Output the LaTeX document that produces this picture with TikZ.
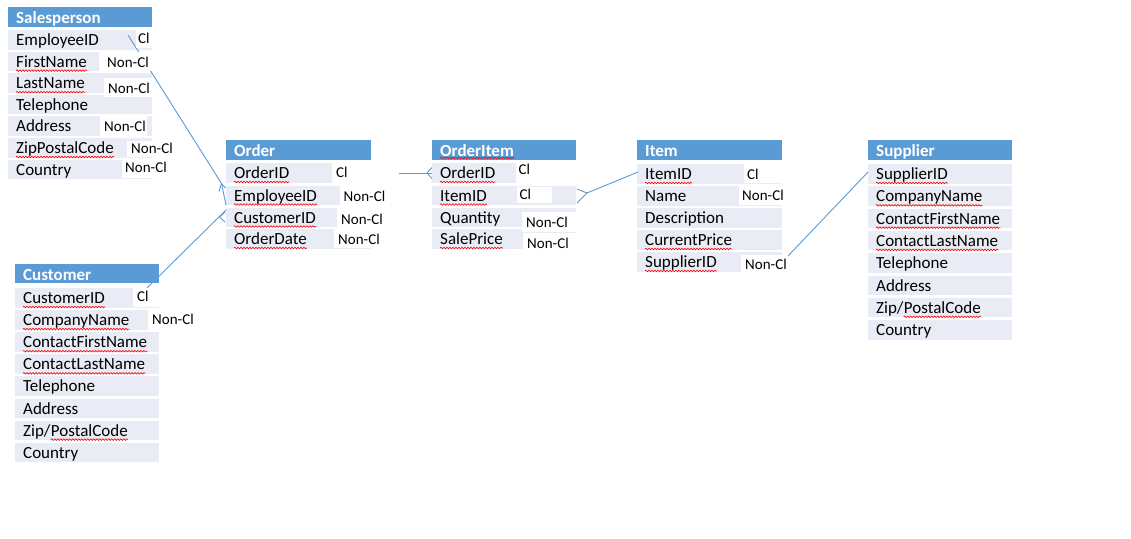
\documentclass[tikz,border=0pt]{standalone}
\usepackage{fontspec}
\setmainfont{Carlito}
\usetikzlibrary{decorations.pathmorphing}
\definecolor{hdrblue}{HTML}{5B9BD5}
\definecolor{rowbg}{HTML}{E9EBF5}
\definecolor{connblue}{HTML}{5B9BD5}
\definecolor{spellred}{HTML}{FF0000}
\tikzset{
 hdrtext/.style={anchor=base west, inner sep=0pt, text=white, font=\fontsize{17}{20}\selectfont\bfseries},
 fldtext/.style={anchor=base west, inner sep=0pt, text=black, font=\fontsize{17}{20}\selectfont},
 labtext/.style={anchor=base west, inner sep=0pt, text=black, font=\fontsize{15}{18}\selectfont},
 spell/.style={draw=spellred, line width=0.6pt, decorate, decoration={snake, amplitude=0.8pt, segment length=3pt}},
 link/.style={draw=connblue, line width=0.9pt},
}
\newcommand\Hdr[5]{%
 \fill[hdrblue] (#2,#3) rectangle ++(#4,19.5);
 \node[hdrtext] (#1) at ({#2+8},{#3+16.5}) {#5};}
\newcommand\Fld[5]{%
 \fill[rowbg] (#2,#3) rectangle ++(#4,19.5);
 \node[fldtext] (#1) at ({#2+8},{#3+15.5}) {#5};}
\newcommand\Spl[1]{\draw[spell] ([yshift=-3.5pt]#1.base west) -- ([yshift=-3.5pt]#1.base east);}
\newcommand\Lab[8]{%
 \fill[white] (#2,#3) rectangle (#4,#5);
 \node[labtext] (#1) at (#6,#7) {#8};}
\begin{document}
\begin{tikzpicture}[x=1pt,y=-1pt]
\fill[white] (0,0) rectangle (1131,538);
\useasboundingbox (0,0) rectangle (1131,538);
% Salesperson
\Hdr{sH}{8}{7}{144}{Salesperson}
\Fld{s1}{8}{30}{144}{EmployeeID}
\Fld{s2}{8}{51.6}{144}{FirstName}
\Fld{s3}{8}{73.2}{144}{LastName}
\Fld{s4}{8}{94.8}{144}{Telephone}
\Fld{s5}{8}{116.4}{144}{Address}
\Fld{s6}{8}{138}{144}{ZipPostalCode}
\Fld{s7}{8}{159.6}{144}{Country}
% Order
\Hdr{oH}{226}{140}{145}{Order}
\Fld{o1}{226}{163}{145}{OrderID}
\Fld{o2}{226}{185.5}{145}{EmployeeID}
\Fld{o3}{226}{207.5}{145}{CustomerID}
\Fld{o4}{226}{229}{145}{OrderDate}
% OrderItem
\Hdr{iH}{432}{140}{144}{OrderItem}
\Fld{i1}{432}{163}{144}{OrderID}
\Fld{i2}{432}{185.5}{144}{ItemID}
\Fld{i3}{432}{207.5}{144}{Quantity}
\Fld{i4}{432}{229}{144}{SalePrice}
% Item
\Hdr{tH}{637}{140}{145}{Item}
\Fld{t1}{637}{164}{145}{ItemID}
\Fld{t2}{637}{186}{145}{Name}
\Fld{t3}{637}{208}{145}{Description}
\Fld{t4}{637}{230}{145}{CurrentPrice}
\Fld{t5}{637}{252}{145}{SupplierID}
% Supplier
\Hdr{uH}{868}{140}{144}{Supplier}
\Fld{u1}{868}{164}{144}{SupplierID}
\Fld{u2}{868}{186.3}{144}{CompanyName}
\Fld{u3}{868}{208.6}{144}{ContactFirstName}
\Fld{u4}{868}{230.9}{144}{ContactLastName}
\Fld{u5}{868}{253.2}{144}{Telephone}
\Fld{u6}{868}{275.5}{144}{Address}
\Fld{u7}{868}{297.8}{144}{Zip/}
\node[fldtext] (u7b) at (u7.base east) {PostalCode};
\Fld{u8}{868}{320.1}{144}{Country}
% Customer
\Hdr{cH}{15}{263.5}{144}{Customer}
\Fld{c1}{15}{288}{144}{CustomerID}
\Fld{c2}{15}{310.1}{144}{CompanyName}
\Fld{c3}{15}{332.2}{144}{ContactFirstName}
\Fld{c4}{15}{354.3}{144}{ContactLastName}
\Fld{c5}{15}{376.4}{144}{Telephone}
\Fld{c6}{15}{398.5}{144}{Address}
\Fld{c7}{15}{420.6}{144}{Zip/}
\node[fldtext] (c7b) at (c7.base east) {PostalCode};
\Fld{c8}{15}{442.7}{144}{Country}
% spelling marks
\Spl{s2}\Spl{s3}\Spl{s6}
\Spl{o1}\Spl{o2}\Spl{o3}\Spl{o4}
\draw[spell] ([yshift=-1.5pt]iH.base west) -- ([yshift=-1.5pt]iH.base east);
\Spl{i1}\Spl{i2}\Spl{i4}
\Spl{t1}\Spl{t4}\Spl{t5}
\Spl{u1}\Spl{u2}\Spl{u3}\Spl{u4}\Spl{u7b}
\Spl{c1}\Spl{c2}\Spl{c3}\Spl{c4}\Spl{c7b}
% connectors
\coordinate (k1a) at (128,35);
\coordinate (k1b) at (221.5,183.5);
\coordinate (k1e) at (226,205);
\coordinate (k1l) at (219,191.5);
\coordinate (k1r) at (225.5,188);
\draw[link] (k1a) -- (k1b) -- (k1e);
\draw[link] (k1l) -- (k1b) -- (k1r);
\coordinate (k2a) at (147,288);
\coordinate (k2e) at (226,210);
\coordinate (k2p) at (219.5,217);
\coordinate (k2u) at (225,212);
\coordinate (k2d) at (225,222);
\draw[link] (k2a) -- (k2e);
\draw[link] (k2u) -- (k2p) -- (k2d);
\coordinate (k3a) at (399,173);
\coordinate (k3e) at (432,173);
\coordinate (k3p) at (427,173);
\coordinate (k3u) at (432,167.5);
\coordinate (k3d) at (432,178.5);
\draw[link] (k3a) -- (k3e);
\draw[link] (k3u) -- (k3p) -- (k3d);
\coordinate (k4a) at (638,172);
\coordinate (k4p) at (587,193);
\coordinate (k4u) at (577,189);
\coordinate (k4d) at (577,203);
\draw[link] (k4a) -- (k4p);
\draw[link] (k4u) -- (k4p) -- (k4d);
\coordinate (k5a) at (788,256);
\coordinate (k5e) at (868,172);
\draw[link] (k5a) -- (k5e);
% labels
\Lab{sL1}{136}{30}{152}{48}{138}{43.3}{Cl}
\Lab{sL2}{99}{52}{152}{71}{107}{67}{Non-Cl}
\Lab{sL3}{104}{78}{152}{97}{108}{93.5}{Non-Cl}
\Lab{sL5}{100}{116}{147}{136}{104}{131.3}{Non-Cl}
\Lab{sL6}{127}{141}{173}{157}{131}{153.5}{Non-Cl}
\Lab{sL7}{122}{160}{167}{178}{125}{172.3}{Non-Cl}
\Lab{oL1}{332}{163}{371}{183}{336}{177}{Cl}
\Lab{oL2}{340}{186}{386}{206}{343.5}{201.3}{Non-Cl}
\Lab{oL3}{337}{208}{384}{228}{341}{224}{Non-Cl}
\Lab{oL4}{334}{229}{381}{248}{338}{244}{Non-Cl}
\Lab{iL1}{516}{163}{576}{183}{518.5}{174.5}{Cl}
\Lab{iL2}{517}{187}{552}{203}{519.5}{199.5}{Cl}
\Lab{iL3}{522}{212}{576}{232}{526}{227}{Non-Cl}
\Lab{iL4}{523}{233}{576}{252}{527}{248}{Non-Cl}
\Lab{tL1}{744}{164}{782}{183}{747}{179}{Cl}
\Lab{tL2}{739}{186}{782}{205}{742}{200.7}{Non-Cl}
\Lab{tL5}{741}{255}{788}{274}{745}{269}{Non-Cl}
\Lab{cL1}{133}{288}{159}{307}{137}{301.3}{Cl}
\Lab{cL2}{148}{310}{195}{330}{152}{324}{Non-Cl}
\end{tikzpicture}
\end{document}
